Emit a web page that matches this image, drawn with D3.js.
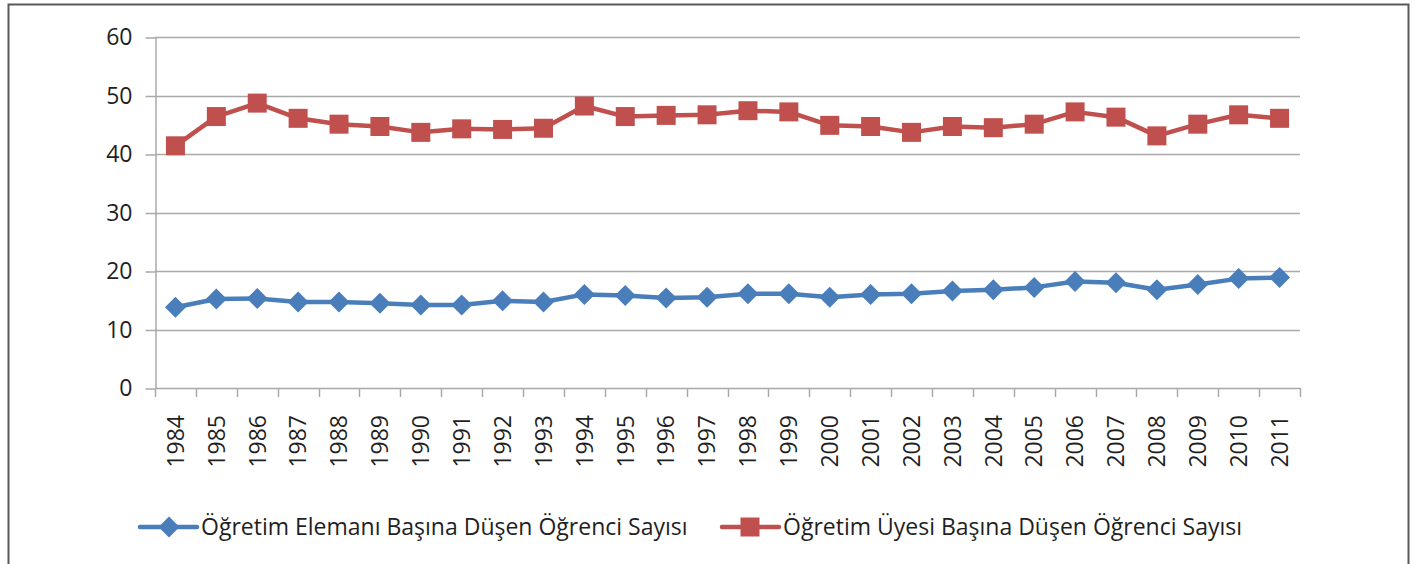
<!DOCTYPE html>
<html>
<head>
<meta charset="utf-8">
<script src="https://cdn.jsdelivr.net/npm/d3@7"></script>
<style>
  html, body { margin: 0; padding: 0; background: #fff; }
  svg { display: block; font-family: "Open Sans", sans-serif; }
</style>
</head>
<body>
<div id="chart"></div>
<script>
const years = ['1984','1985','1986','1987','1988','1989','1990','1991','1992','1993','1994','1995','1996','1997',
  '1998','1999','2000','2001','2002','2003','2004','2005','2006','2007','2008','2009','2010','2011'];

// Öğretim Elemanı Başına Düşen Öğrenci Sayısı
const elemanValues = [13.8, 15.2, 15.3, 14.7, 14.7, 14.5, 14.2, 14.2, 14.9, 14.7, 16.0, 15.8, 15.4, 15.5,
  16.1, 16.1, 15.5, 16.0, 16.1, 16.6, 16.8, 17.2, 18.2, 18.0, 16.8, 17.7, 18.7, 18.9];

// Öğretim Üyesi Başına Düşen Öğrenci Sayısı
const uyeValues = [41.4, 46.4, 48.7, 46.1, 45.1, 44.7, 43.7, 44.3, 44.2, 44.4, 48.2, 46.4, 46.6, 46.7,
  47.4, 47.2, 44.9, 44.7, 43.7, 44.7, 44.5, 45.1, 47.2, 46.3, 43.1, 45.1, 46.7, 46.1];

const yTicks = [0, 10, 20, 30, 40, 50, 60];
const seriesNames = ['Öğretim Elemanı Başına Düşen Öğrenci Sayısı', 'Öğretim Üyesi Başına Düşen Öğrenci Sayısı'];

const W = 1417, H = 564;
const plot = { left: 155, right: 1300, top: 37, bottom: 388 };
const BLUE = '#4a7ebb', RED = '#c0504d', GRID = '#a9a9a9', TEXT = '#1f1f1f';

const svg = d3.select('#chart').append('svg')
  .attr('width', W)
  .attr('height', H)
  .attr('viewBox', `0 0 ${W} ${H}`);

// outer frame (bottom edge runs off the picture)
svg.append('rect')
  .attr('x', 8.5).attr('y', 4.5)
  .attr('width', 1400).attr('height', 620)
  .attr('fill', 'none')
  .attr('stroke', '#595959')
  .attr('stroke-width', 2);

const x = d3.scaleBand().domain(years).range([plot.left, plot.right]).paddingInner(0).paddingOuter(0);
const y = d3.scaleLinear().domain([0, 60]).range([plot.bottom, plot.top]);
const cx = d => x(d) + x.bandwidth() / 2;

// gridlines
svg.append('g').attr('class', 'grid')
  .selectAll('line')
  .data(yTicks)
  .join('line')
  .attr('x1', plot.left).attr('x2', plot.right)
  .attr('y1', d => Math.round(y(d)) + 0.5).attr('y2', d => Math.round(y(d)) + 0.5)
  .attr('stroke', GRID)
  .attr('stroke-width', 1.5);

// y axis
const yAxis = svg.append('g')
  .attr('transform', `translate(${plot.left + 0.5},0.5)`)
  .call(d3.axisLeft(y).tickValues(yTicks).tickSize(10).tickSizeOuter(0).tickPadding(13));
yAxis.select('.domain').attr('stroke', GRID).attr('stroke-width', 1.5);
yAxis.selectAll('.tick line').attr('stroke', GRID).attr('stroke-width', 1.5);
yAxis.selectAll('.tick text')
  .attr('fill', TEXT)
  .style('font-size', '23px')
  .style('font-family', '"Open Sans", sans-serif');

// x axis: labels rotated, tick marks at category boundaries
const xAxis = svg.append('g')
  .attr('transform', `translate(0,${plot.bottom})`)
  .call(d3.axisBottom(x).tickSize(0).tickSizeOuter(0));
xAxis.select('.domain').remove();
xAxis.selectAll('.tick text')
  .attr('transform', 'rotate(-90)')
  .attr('x', -27)
  .attr('y', 0)
  .attr('dy', '0.36em')
  .style('text-anchor', 'end')
  .attr('fill', TEXT)
  .style('font-size', '23px')
  .style('font-family', '"Open Sans", sans-serif');

const boundaries = years.map(d => x(d)).concat([plot.right]);
svg.append('g').attr('class', 'xticks')
  .selectAll('line')
  .data(boundaries)
  .join('line')
  .attr('x1', d => Math.round(d) + 0.5).attr('x2', d => Math.round(d) + 0.5)
  .attr('y1', plot.bottom).attr('y2', plot.bottom + 9)
  .attr('stroke', GRID)
  .attr('stroke-width', 1.5);

// lines
const line = d3.line().x((d, i) => cx(years[i])).y(d => y(d));

function diamondPath(s) {
  return `M0,${-s}L${s},0L0,${s}L${-s},0Z`;
}

svg.append('path')
  .datum(elemanValues)
  .attr('d', line)
  .attr('fill', 'none')
  .attr('stroke', BLUE)
  .attr('stroke-width', 4.5)
  .attr('stroke-linejoin', 'round');

svg.append('g').selectAll('path')
  .data(elemanValues)
  .join('path')
  .attr('transform', (d, i) => `translate(${cx(years[i])},${y(d)})`)
  .attr('d', diamondPath(10.5))
  .attr('fill', BLUE);

svg.append('path')
  .datum(uyeValues)
  .attr('d', line)
  .attr('fill', 'none')
  .attr('stroke', RED)
  .attr('stroke-width', 4.5)
  .attr('stroke-linejoin', 'round');

svg.append('g').selectAll('rect')
  .data(uyeValues)
  .join('rect')
  .attr('x', (d, i) => cx(years[i]) - 9.5)
  .attr('y', d => y(d) - 9.5)
  .attr('width', 19).attr('height', 19)
  .attr('fill', RED);

// legend
const legendY = 527;
const legendItems = [
  { name: seriesNames[0], color: BLUE, x0: 140, marker: 'diamond' },
  { name: seriesNames[1], color: RED, x0: 722, marker: 'square' }
];
const leg = svg.append('g').attr('class', 'legend');
legendItems.forEach(it => {
  const g = leg.append('g').attr('transform', `translate(${it.x0},${legendY})`);
  g.append('line')
    .attr('x1', 0).attr('x2', 57)
    .attr('y1', 0).attr('y2', 0)
    .attr('stroke', it.color)
    .attr('stroke-width', 4.5)
    .attr('stroke-linecap', 'round');
  if (it.marker === 'diamond') {
    g.append('path').attr('transform', 'translate(29,0)').attr('d', diamondPath(10.5)).attr('fill', it.color);
  } else {
    g.append('rect').attr('x', 28 - 9.5).attr('y', -9.5).attr('width', 19).attr('height', 19).attr('fill', it.color);
  }
  g.append('text')
    .attr('x', 61)
    .attr('y', 0)
    .attr('dy', '0.35em')
    .attr('fill', TEXT)
    .style('font-size', '23px')
    .style('font-family', '"Open Sans", sans-serif')
    .text(it.name);
});
</script>
</body>
</html>
